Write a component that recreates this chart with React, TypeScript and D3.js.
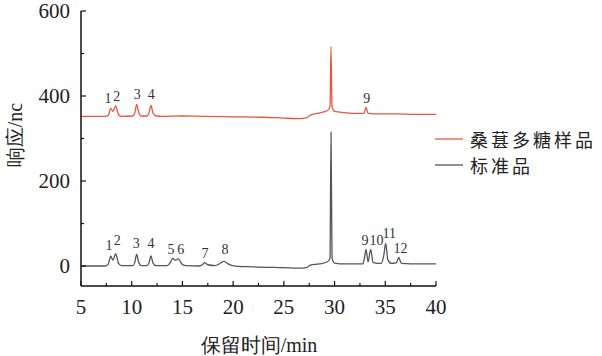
import React from "react";
import * as d3 from "d3";

// Retention time (min) and response (nc) points
const sampleTimes = [5, 7.4, 7.7, 7.93, 8.15, 8.42, 8.7, 9.0, 10.1, 10.3, 10.49, 10.7, 10.95, 11.5, 11.7, 11.9, 12.1, 12.4, 13, 15, 17, 20, 23, 25, 26.5, 27.3, 27.6, 28.5, 29.3, 29.55, 29.65, 29.75, 30, 31, 32, 32.9, 33.1, 33.3, 34, 36, 38, 40];
const sampleValues = [352, 352, 355, 371, 364, 377, 356, 352, 353, 360, 380, 360, 353, 353, 360, 378, 360, 353, 352, 353, 352, 351, 350, 348, 347, 349, 355, 360, 366, 375, 516, 375, 364, 361, 359, 359, 373, 359, 358, 358, 357, 357];

const standardTimes = [5, 7.4, 7.7, 7.93, 8.15, 8.42, 8.7, 9.0, 10.1, 10.3, 10.49, 10.7, 10.95, 11.5, 11.7, 11.9, 12.1, 12.4, 13.5, 13.8, 14.04, 14.3, 14.6, 14.9, 15.3, 16.7, 17.0, 17.2, 17.5, 18.2, 18.7, 19.1, 19.5, 20.2, 22, 25, 26.5, 27.3, 27.6, 28.5, 29.3, 29.55, 29.65, 29.75, 30, 31, 32.8, 32.95, 33.1, 33.3, 33.56, 33.8, 34.6, 34.85, 35.04, 35.25, 35.6, 36.1, 36.32, 36.6, 37.5, 40];
const standardValues = [0, 0, 5, 23, 14, 29, 6, 1, 1, 8, 28, 8, 1, 1, 7, 24, 7, 1, 1, 8, 18, 14, 17, 6, 1, 0, 4, 8, 3, 1, 6, 11, 5, 0, -2, -4, -5, -3, 2, 5, 10, 18, 315, 18, 7, 5, 5, 20, 39, 10, 39, 8, 6, 25, 53, 15, 6, 8, 20, 6, 5, 5];

// Peak labels
const sampleLabels = ["1", "2", "3", "4", "9"];
const sampleLabelTimes = [7.66, 8.52, 10.54, 11.92, 33.17];
const sampleLabelValues = [393, 400, 404, 404, 395];

const standardLabels = ["1", "2", "3", "4", "5", "6", "7", "8", "9", "10", "11", "12"];
const standardLabelTimes = [7.76, 8.58, 10.45, 11.9, 13.87, 14.83, 17.23, 19.2, 33.0, 34.14, 35.4, 36.5];
const standardLabelValues = [49, 60, 52, 52, 39, 39, 30, 39, 60, 60, 77, 42];

const xMajorTicks = [5, 10, 15, 20, 25, 30, 35, 40];
const xMinorTicks = [7.5, 12.5, 17.5, 22.5, 27.5, 32.5, 37.5];
const yMajorTicks = [0, 200, 400, 600];
const yMinorTicks = [100, 300, 500];

const seriesNames = ["桑葚多糖样品", "标准品"];
const seriesColors = ["#e9553f", "#555555"];

export default function App() {
  const x = d3.scaleLinear().domain([5, 40]).range([81, 436]);
  const y = d3.scaleLinear().domain([-47, 600]).range([286, 11]);
  const line = d3
    .line<[number, number]>()
    .x((d) => x(d[0]))
    .y((d) => y(d[1]))
    .curve(d3.curveMonotoneX);

  const sampleData: [number, number][] = sampleTimes.map((t, i) => [t, sampleValues[i]]);
  const standardData: [number, number][] = standardTimes.map((t, i) => [t, standardValues[i]]);

  const serif = "Liberation Serif, DejaVu Serif, Times New Roman, serif";
  const cjk = "Noto Sans CJK SC, sans-serif";

  return (
    <svg width={602} height={356} style={{ position: "absolute", left: 0, top: 0, background: "#fff" }}>
      <rect width={602} height={356} fill="#fff" />
      {/* lines */}
      <path d={line(standardData) || ""} fill="none" stroke={seriesColors[1]} strokeWidth={1.3} />
      <path d={line(sampleData) || ""} fill="none" stroke={seriesColors[0]} strokeWidth={1.3} />

      {/* peak labels */}
      {sampleLabels.map((l, i) => (
        <text key={"s" + i} x={x(sampleLabelTimes[i])} y={y(sampleLabelValues[i])} fontSize={14} fontFamily={serif} textAnchor="middle" dominantBaseline="central" fill="#333">
          {l}
        </text>
      ))}
      {standardLabels.map((l, i) => (
        <text key={"g" + i} x={x(standardLabelTimes[i])} y={y(standardLabelValues[i])} fontSize={14} fontFamily={serif} textAnchor="middle" dominantBaseline="central" fill="#333">
          {l}
        </text>
      ))}

      {/* axes */}
      <line x1={x(5)} x2={x(40)} y1={286} y2={286} stroke="#111" strokeWidth={1.5} />
      <line x1={81} x2={81} y1={y(600)} y2={286} stroke="#111" strokeWidth={1.5} />
      {xMajorTicks.map((t) => (
        <g key={"xt" + t}>
          <line x1={x(t)} x2={x(t)} y1={286} y2={281} stroke="#111" strokeWidth={1.2} />
          <text x={x(t)} y={314} fontSize={21} fontFamily={serif} textAnchor="middle" fill="#222">
            {t}
          </text>
        </g>
      ))}
      {xMinorTicks.map((t) => (
        <line key={"xm" + t} x1={x(t)} x2={x(t)} y1={286} y2={283} stroke="#111" strokeWidth={1.2} />
      ))}
      {yMajorTicks.map((v) => (
        <g key={"yt" + v}>
          <line x1={81} x2={86} y1={y(v)} y2={y(v)} stroke="#111" strokeWidth={1.2} />
          <text x={70} y={y(v)} fontSize={21} fontFamily={serif} textAnchor="end" dominantBaseline="central" fill="#222">
            {v}
          </text>
        </g>
      ))}
      {yMinorTicks.map((v) => (
        <line key={"ym" + v} x1={81} x2={84} y1={y(v)} y2={y(v)} stroke="#111" strokeWidth={1.2} />
      ))}

      {/* axis titles */}
      <text x={259} y={352} fontSize={20} fontFamily={serif} textAnchor="middle" fill="#222">
        保留时间/min
      </text>
      <text transform={`translate(22,135) rotate(-90)`} fontSize={20} fontFamily={serif} textAnchor="middle" fill="#222">
        响应/nc
      </text>

      {/* legend */}
      {seriesNames.map((n, i) => (
        <g key={"lg" + i} transform={`translate(435,${139 + i * 26})`}>
          <line x1={0} x2={28} y1={0} y2={0} stroke={seriesColors[i]} strokeWidth={1.3} />
          <text x={35} y={0} fontSize={18} letterSpacing={3} fontFamily={cjk} dominantBaseline="central" fill="#222">
            {n}
          </text>
        </g>
      ))}
    </svg>
  );
}
